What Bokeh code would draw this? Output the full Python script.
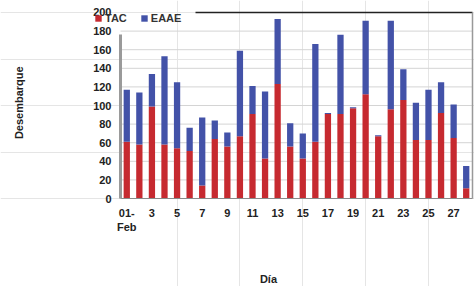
import math
from bokeh.plotting import figure
from bokeh.models import FixedTicker, Legend, LegendItem, Label, LinearAxis
from bokeh.embed import file_html
from bokeh.resources import INLINE

dias = list(range(1, 29))
tac = [61, 58, 99, 58, 54, 51, 14, 64, 56, 67, 91, 43, 123, 56, 43, 61, 91, 91, 97, 112, 67, 96, 106, 63, 63, 92, 65, 11]
total = [117, 114, 134, 153, 125, 76, 87, 84, 71, 159, 121, 115, 193, 81, 70, 166, 92, 176, 98, 191, 68, 191, 139, 103, 117, 125, 101, 35]
eaae = [t - r for t, r in zip(total, tac)]
xticks = list(range(1, 28, 2))
xtick_labels = {1: "01-\nFeb"}
yticks = list(range(0, 201, 20))

FONT = "Liberation Sans"

p = figure(width=474, height=286, x_range=(-9.045, 28.66), y_range=(-94.6, 212.9),
           output_backend="svg", toolbar_location=None,
           x_axis_location=None, y_axis_location=None,
           min_border_left=0, min_border_right=0, min_border_top=0, min_border_bottom=0)
p.outline_line_color = None

# horizontal grid lines across the plotting area only, behind the bars
gy = yticks[1:-1]
p.segment(x0=[0.5] * len(gy), x1=[28.5] * len(gy), y0=gy, y1=gy,
          line_color="#d4d4d4", line_width=1)

data = dict(dias=dias, tac=tac, eaae=eaae)
rs = p.vbar_stack(["tac", "eaae"], x="dias", width=0.5, source=data,
                  color=["#c62a30", "#4352a8"], line_color=None)

def style(ax, size="11px"):
    ax.major_tick_line_color = None
    ax.minor_tick_line_color = None
    ax.major_label_text_font = FONT
    ax.major_label_text_font_style = "bold"
    ax.major_label_text_font_size = size
    ax.major_label_text_color = "#222222"

# y axis: labels, plus the gray axis line
ya = LinearAxis(fixed_location=0.5, bounds=(0, 200), ticker=FixedTicker(ticks=yticks),
                axis_line_color=None, major_label_standoff=3)
style(ya)
p.add_layout(ya, "left")
yline = LinearAxis(fixed_location=0.5, bounds=(0, 176), ticker=FixedTicker(ticks=[]),
                   axis_line_color="#9a9a9a", axis_line_width=3)
style(yline)
p.add_layout(yline, "left")

xa = LinearAxis(fixed_location=0, bounds=(0.5, 28.5), ticker=FixedTicker(ticks=xticks),
                axis_line_color="#8a8a8a", major_label_overrides=xtick_labels,
                major_label_standoff=2)
style(xa)
p.add_layout(xa, "below")

# frame borders (top, right)
top = LinearAxis(fixed_location=200, bounds=(6.5, 28.5), ticker=FixedTicker(ticks=[]),
                 axis_line_color="#222222", axis_line_width=1.5)
style(top)
p.add_layout(top, "above")
right = LinearAxis(fixed_location=28.5, bounds=(0, 200), ticker=FixedTicker(ticks=[]),
                   axis_line_color="#999999", axis_line_width=1.5)
style(right)
p.add_layout(right, "right")

legend = Legend(items=[LegendItem(label="TAC", renderers=[rs[0]]),
                       LegendItem(label="EAAE", renderers=[rs[1]])],
                orientation="horizontal", location=(94, 262),
                background_fill_alpha=0, border_line_color=None,
                label_text_font=FONT, label_text_font_style="bold",
                label_text_font_size="11px", label_text_color="#333",
                glyph_width=8, glyph_height=8, label_height=10, label_width=10,
                spacing=13, padding=1, margin=0, label_standoff=3)
p.add_layout(legend, "center")

p.add_layout(Label(x=-7.61, y=103, text="Desembarque", angle=math.pi / 2,
                   text_font=FONT, text_font_style="bold", text_font_size="11px",
                   text_align="center", text_baseline="middle", text_color="#222222"))
p.add_layout(Label(x=12.27, y=-86.5, text="Día",
                   text_font=FONT, text_font_style="bold", text_font_size="11px",
                   text_align="center", text_baseline="middle", text_color="#222222"))

open("out.html", "w").write(file_html(p, INLINE))
